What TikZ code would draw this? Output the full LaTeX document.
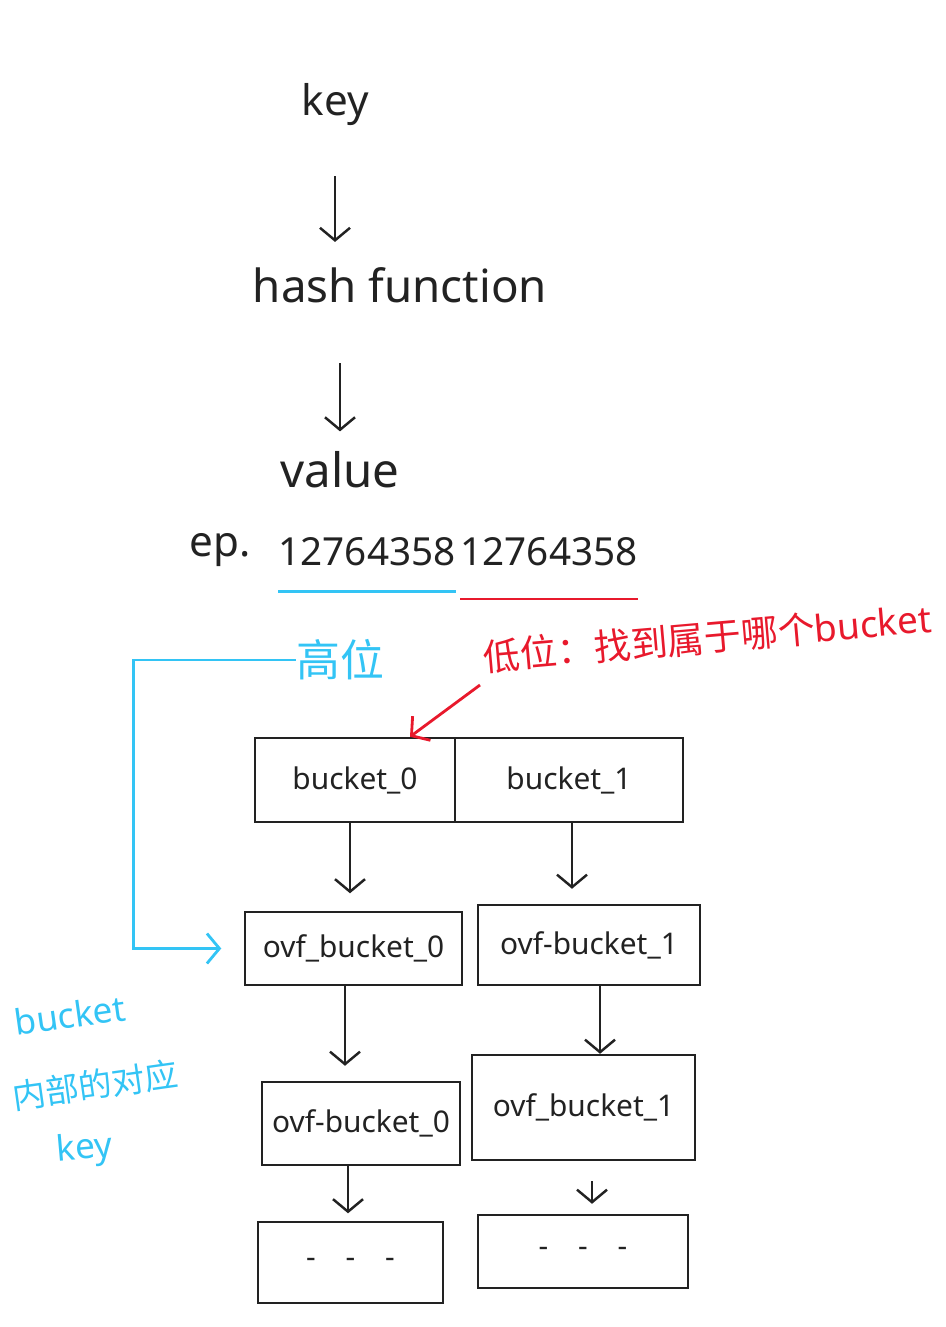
\documentclass[tikz,border=0pt]{standalone}
\usepackage{fontspec}
\setmainfont{Noto Sans}
\newfontfamily\cjk{Noto Sans CJK SC}
\usetikzlibrary{arrows.meta}
\definecolor{ink}{HTML}{222222}
\definecolor{skyblue}{HTML}{33C4F5}
\definecolor{inkred}{HTML}{E8192C}
\tikzset{
  hand/.style={inner sep=0pt, text=ink},
  arr/.style={-{Straight Barb[length=2.5mm,width=6mm]}, line width=1.4pt, draw=ink},
  box/.style={draw=ink, line width=1.4pt, inner sep=0pt, text=ink,
    font=\fontsize{17}{20}\selectfont},
  blueline/.style={draw=skyblue, line width=1.6pt},
  redline/.style={draw=inkred, line width=1.6pt},
}

\begin{document}
\begin{tikzpicture}
  \useasboundingbox (0,0) rectangle (18.92,-26.54);

  % key -> hash function -> value
  \node (k) [hand, font=\fontsize{24}{28}\selectfont] at (6.7,-2.1) {key};
  \node (hf) [hand, font=\fontsize{26}{30}\selectfont] at (8.0,-5.7) {hash function};
  \node (val) [hand, font=\fontsize{27}{30}\selectfont] at (6.8,-9.4) {value};
  \draw[arr, shorten <=1.0cm, shorten >=0.5cm] (k.south) -- (k.south |- hf.north);
  \draw[arr, shorten <=1.2cm, shorten >=0.4cm] (val.north |- hf.south) -- (val.north);

  % example value
  \node (ep) [hand, font=\fontsize{24}{28}\selectfont] at (4.4,-11.0) {ep.};
  \node (n1) [hand, font=\fontsize{22}{26}\selectfont] at (7.34,-11.04) {12764358};
  \node (n2) [hand, font=\fontsize{22}{26}\selectfont] at (10.98,-11.04) {12764358};
  \draw[blueline] ([yshift=-0.5cm]n1.south west) -- ([yshift=-0.5cm]n1.south east);
  \draw[redline] ([yshift=-0.65cm]n2.south west) -- ([yshift=-0.65cm]n2.south east);

  % notes
  \node (gao) [inner sep=0pt, text=skyblue, font=\cjk\fontsize{25}{28}\selectfont]
    at (6.8,-13.2) {高位};
  \node (low) [inner sep=0pt, text=inkred, rotate=5, font=\fontsize{21}{24}\selectfont]
    at (14.15,-12.75) {{\cjk 低位：找到属于哪个}bucket};

  % buckets
  \node (b0) [box, minimum width=4cm, minimum height=1.68cm] at (7.1,-15.6) {bucket\_0};
  \node (b1) [box, minimum width=4.56cm, minimum height=1.68cm] at (11.38,-15.6) {bucket\_1};

  \node (o1l) [box, minimum width=4.34cm, minimum height=1.46cm] at (7.07,-18.97) {ovf\_bucket\_0};
  \node (o1r) [box, minimum width=4.44cm, minimum height=1.6cm] at (11.78,-18.9) {ovf-bucket\_1};
  \node (o2l) [box, minimum width=3.96cm, minimum height=1.66cm] at (7.22,-22.47) {ovf-bucket\_0};
  \node (o2r) [box, minimum width=4.46cm, minimum height=2.1cm] at (11.67,-22.15) {ovf\_bucket\_1};
  \node (r3l) [box, minimum width=3.7cm, minimum height=1.62cm] at (7.01,-25.25) {-\quad-\quad-};
  \node (r3r) [box, minimum width=4.2cm, minimum height=1.46cm] at (11.66,-25.03) {-\quad-\quad-};

  \draw[arr, shorten >=0.35cm] ([xshift=-0.1cm]b0.south) -- ([xshift=-0.1cm]b0.south |- o1l.north);
  \draw[arr, shorten >=0.3cm] ([xshift=0.06cm]b1.south) -- ([xshift=0.06cm]b1.south |- o1r.north);
  \draw[arr, shorten >=0.3cm] ([xshift=-0.17cm]o1l.south) -- ([xshift=-0.17cm]o1l.south |- o2l.north);
  \draw[arr] ([xshift=0.22cm]o1r.south) -- ([xshift=0.22cm]o1r.south |- o2r.north);
  \draw[arr, shorten >=0.15cm] ([xshift=-0.26cm]o2l.south) -- ([xshift=-0.26cm]o2l.south |- r3l.north);
  \draw[arr, shorten <=0.4cm, shorten >=0.2cm] ([xshift=0.17cm]o2r.south) -- ([xshift=0.17cm]o2r.south |- r3r.north);

  % high bits -> key inside bucket
  \draw[blueline, -{Straight Barb[length=2.5mm,width=6mm]}, shorten >=0.45cm]
    (gao.west) -| ([xshift=-2.2cm]o1l.west) -- (o1l.west);
  % low bits -> bucket
  \coordinate (lowtail) at (9.6,-13.7);
  \draw[redline, -{Straight Barb[length=2.5mm,width=6mm]}]
    (lowtail) -- ([xshift=1.1cm]b0.north);

  \node (bk1) [inner sep=0pt, text=skyblue, rotate=8, font=\fontsize{20}{24}\selectfont]
    at (1.4,-20.3) {bucket};
  \node (bk2) [inner sep=0pt, text=skyblue, rotate=8, font=\cjk\fontsize{19}{22}\selectfont]
    at (1.9,-21.7) {内部的对应};
  \node (bk3) [inner sep=0pt, text=skyblue, rotate=5, font=\fontsize{20}{24}\selectfont]
    at (1.7,-23.0) {key};
\end{tikzpicture}
\end{document}
